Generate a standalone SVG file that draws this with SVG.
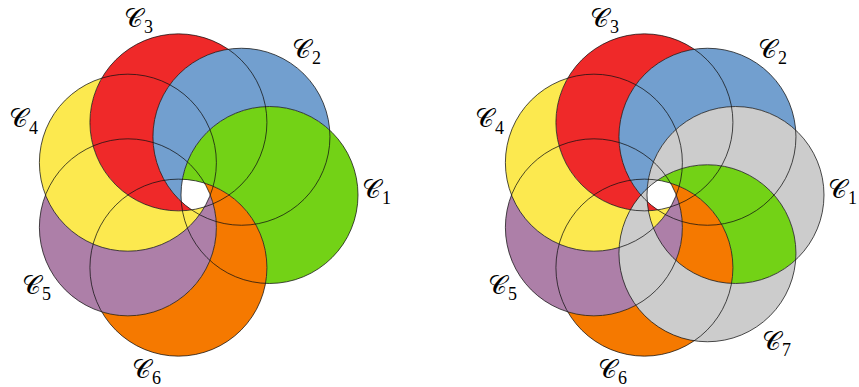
<svg xmlns="http://www.w3.org/2000/svg" width="859" height="387" viewBox="0 0 859 387">
  <style>
    .outline { fill: none; stroke: #111; stroke-width: 0.75; }
    .lbl { font-family: "DejaVu Serif", "Liberation Serif", serif; font-size: 26px; font-weight: normal; fill: #000; }
    .sub { font-family: "Liberation Serif", "DejaVu Serif", serif; font-size: 18px; }
    .green { fill: #73d216; }
    .blue { fill: #729fcf; }
    .red { fill: #ef2929; }
    .yellow { fill: #fce94f; }
    .purple { fill: #ad7fa8; }
    .orange { fill: #f57900; }
    .gray { fill: #cccccc; fill-rule: evenodd; }
  </style>
  <defs>
    <circle id="c1" cx="269.5" cy="195" r="88.5"/>
    <circle id="c2" cx="241.45" cy="136.75" r="88.5"/>
    <circle id="c3" cx="178.42" cy="122.37" r="88.5"/>
    <circle id="c4" cx="127.88" cy="162.68" r="88.5"/>
    <circle id="c5" cx="127.88" cy="227.32" r="88.5"/>
    <circle id="c6" cx="178.42" cy="267.63" r="88.5"/>
    <circle id="c7" cx="241.45" cy="253.25" r="88.5"/>
    <clipPath id="not1" clipPathUnits="userSpaceOnUse"><path clip-rule="evenodd" d="M-60,-60H520V460H-60Z M181,195 a88.5,88.5 0 1,0 177,0 a88.5,88.5 0 1,0 -177,0Z"/></clipPath>
    <clipPath id="not2" clipPathUnits="userSpaceOnUse"><path clip-rule="evenodd" d="M-60,-60H520V460H-60Z M152.95,136.75 a88.5,88.5 0 1,0 177,0 a88.5,88.5 0 1,0 -177,0Z"/></clipPath>
    <clipPath id="not3" clipPathUnits="userSpaceOnUse"><path clip-rule="evenodd" d="M-60,-60H520V460H-60Z M89.92,122.37 a88.5,88.5 0 1,0 177,0 a88.5,88.5 0 1,0 -177,0Z"/></clipPath>
    <clipPath id="not4" clipPathUnits="userSpaceOnUse"><path clip-rule="evenodd" d="M-60,-60H520V460H-60Z M39.38,162.68 a88.5,88.5 0 1,0 177,0 a88.5,88.5 0 1,0 -177,0Z"/></clipPath>
    <clipPath id="not5" clipPathUnits="userSpaceOnUse"><path clip-rule="evenodd" d="M-60,-60H520V460H-60Z M39.38,227.32 a88.5,88.5 0 1,0 177,0 a88.5,88.5 0 1,0 -177,0Z"/></clipPath>
    <clipPath id="not6" clipPathUnits="userSpaceOnUse"><path clip-rule="evenodd" d="M-60,-60H520V460H-60Z M89.92,267.63 a88.5,88.5 0 1,0 177,0 a88.5,88.5 0 1,0 -177,0Z"/></clipPath>
    <clipPath id="in7" clipPathUnits="userSpaceOnUse"><circle cx="241.45" cy="253.25" r="88.5"/></clipPath>
  </defs>
  <rect width="859" height="387" fill="#fff"/>

  <!-- Left diagram: six circles -->
  <g id="left">
    <g id="left-fills">
      <use href="#c1" class="green" clip-path="url(#not6)"/>
      <use href="#c2" class="blue" clip-path="url(#not1)"/>
      <use href="#c3" class="red" clip-path="url(#not2)"/>
      <use href="#c4" class="yellow" clip-path="url(#not3)"/>
      <use href="#c5" class="purple" clip-path="url(#not4)"/>
      <use href="#c6" class="orange" clip-path="url(#not5)"/>
    </g>
    <g id="left-C1"><use href="#c1" class="outline"/><text class="lbl" x="362" y="198">𝒞<tspan class="sub" dx="1" dy="6">1</tspan></text></g>
    <g id="left-C2"><use href="#c2" class="outline"/><text class="lbl" x="292" y="58">𝒞<tspan class="sub" dx="1" dy="6">2</tspan></text></g>
    <g id="left-C3"><use href="#c3" class="outline"/><text class="lbl" x="124" y="27">𝒞<tspan class="sub" dx="1" dy="6">3</tspan></text></g>
    <g id="left-C4"><use href="#c4" class="outline"/><text class="lbl" x="9" y="127">𝒞<tspan class="sub" dx="1" dy="7">4</tspan></text></g>
    <g id="left-C5"><use href="#c5" class="outline"/><text class="lbl" x="22" y="294">𝒞<tspan class="sub" dx="1" dy="6">5</tspan></text></g>
    <g id="left-C6"><use href="#c6" class="outline"/><text class="lbl" x="132" y="378">𝒞<tspan class="sub" dx="1" dy="6">6</tspan></text></g>
  </g>

  <!-- Right diagram: seven circles -->
  <g id="right" transform="translate(466,0)">
    <g id="right-fills">
      <use href="#c2" class="blue" clip-path="url(#not1)"/>
      <use href="#c3" class="red" clip-path="url(#not2)"/>
      <use href="#c4" class="yellow" clip-path="url(#not3)"/>
      <use href="#c5" class="purple" clip-path="url(#not4)"/>
      <use href="#c6" class="orange" clip-path="url(#not5)"/>
      <g clip-path="url(#in7)"><use href="#c1" class="green" clip-path="url(#not6)"/></g>
      <path class="gray" d="M181,195 a88.5,88.5 0 1,0 177,0 a88.5,88.5 0 1,0 -177,0Z M152.95,253.25 a88.5,88.5 0 1,0 177,0 a88.5,88.5 0 1,0 -177,0Z"/>
    </g>
    <g id="right-C1"><use href="#c1" class="outline"/><text class="lbl" x="362" y="198">𝒞<tspan class="sub" dx="1" dy="6">1</tspan></text></g>
    <g id="right-C2"><use href="#c2" class="outline"/><text class="lbl" x="292" y="58">𝒞<tspan class="sub" dx="1" dy="6">2</tspan></text></g>
    <g id="right-C3"><use href="#c3" class="outline"/><text class="lbl" x="124" y="27">𝒞<tspan class="sub" dx="1" dy="6">3</tspan></text></g>
    <g id="right-C4"><use href="#c4" class="outline"/><text class="lbl" x="9" y="127">𝒞<tspan class="sub" dx="1" dy="7">4</tspan></text></g>
    <g id="right-C5"><use href="#c5" class="outline"/><text class="lbl" x="22" y="294">𝒞<tspan class="sub" dx="1" dy="6">5</tspan></text></g>
    <g id="right-C6"><use href="#c6" class="outline"/><text class="lbl" x="132" y="378">𝒞<tspan class="sub" dx="1" dy="6">6</tspan></text></g>
    <g id="right-C7"><use href="#c7" class="outline"/><text class="lbl" x="296" y="350">𝒞<tspan class="sub" dx="1" dy="6">7</tspan></text></g>
  </g>
</svg>
